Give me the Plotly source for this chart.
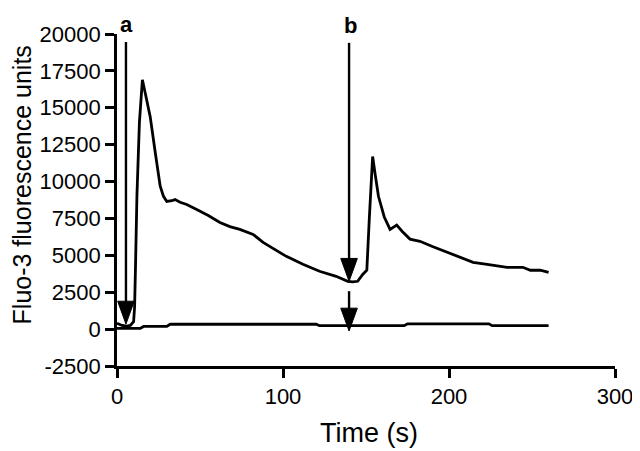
import plotly.graph_objects as go

# Upper trace (response) : time (s), Fluo-3 fluorescence units
t_resp = [0, 3, 6, 8, 10, 10.6, 11.2, 12, 13.5, 15.3, 17, 20, 23, 26, 28, 30, 33, 35, 38, 42, 48,
          55, 62, 68, 74, 78, 82, 88, 95, 102, 112, 122, 132, 139, 142, 145, 148, 150.5,
          152, 154, 155.5, 157.5, 161, 164.5, 168.5, 172, 176.5, 182.5, 190, 199, 205,
          214.5, 223, 235, 244.5, 249, 255, 260]
v_resp = [400, 250, 200, 250, 500, 1500, 4500, 9000, 14000, 16900, 16000, 14400, 12000, 9700, 9000, 8650, 8700, 8780, 8600, 8450, 8100,
          7700, 7230, 6950, 6760, 6600, 6420, 5880, 5400, 4930, 4390, 3920, 3580, 3240, 3200, 3240, 3700, 4000,
          7500, 11700, 10500, 9000, 7600, 6760, 7050, 6600, 6100, 5950, 5600, 5200, 4950,
          4530, 4390, 4190, 4190, 3990, 3990, 3850]

# Lower trace (control)
t_ctrl = [0, 14, 16, 30, 32, 120, 122, 173, 175, 224, 226, 260]
v_ctrl = [50, 50, 180, 180, 330, 330, 230, 230, 360, 360, 230, 230]

# Additions (arrows): label, time, top value, tip value
arrow_labels = ["a", "b", ""]
arrow_t = [5.4, 139.8, 139.8]
arrow_top = [19450, 19400, 2570]
arrow_tip = [340, 3240, -130]

x_ticks = [0, 100, 200, 300]
x_ticktext = ["0", "100", "200", "300"]
y_ticks = [-2500, 0, 2500, 5000, 7500, 10000, 12500, 15000, 17500, 20000]
y_ticktext = ["-2500", "0", "2500", "5000", "7500", "10000", "12500", "15000", "17500", "20000"]

x_title = "Time (s)"
y_title = "Fluo-3 fluorescence units"

FONT = "Liberation Sans, Arial, Helvetica"

fig = go.Figure()
fig.add_trace(go.Scatter(x=t_resp, y=v_resp, mode="lines",
                         line=dict(color="black", width=2.8), hoverinfo="skip"))
fig.add_trace(go.Scatter(x=t_ctrl, y=v_ctrl, mode="lines",
                         line=dict(color="black", width=2.8), hoverinfo="skip"))

head_half_w = 5.0   # seconds
head_h = 1550       # fluorescence units
for lab, t, top, tip in zip(arrow_labels, arrow_t, arrow_top, arrow_tip):
    fig.add_shape(type="line", x0=t, x1=t, y0=top, y1=tip + head_h * 0.5,
                  line=dict(color="black", width=2.4))
    fig.add_shape(type="path",
                  path=f"M {t - head_half_w} {tip + head_h} L {t + head_half_w} {tip + head_h} L {t} {tip} Z",
                  fillcolor="black", line=dict(color="black", width=1))
    if lab:
        fig.add_annotation(x=t, y=top, yshift=3, xshift=1, text=f"<b>{lab}</b>", showarrow=False,
                           yanchor="bottom", font=dict(size=22, color="black", family=FONT))

axis_common = dict(showline=True, linecolor="black", linewidth=2.8, ticks="outside",
                   ticklen=9, tickwidth=2.8, tickcolor="black", showgrid=False,
                   zeroline=False, mirror=False, automargin=False,
                   tickfont=dict(size=22, color="black", family=FONT))

fig.update_xaxes(range=[0, 300], tickvals=x_ticks, ticktext=x_ticktext, **axis_common)
fig.update_yaxes(range=[-2500, 20000], tickvals=y_ticks, ticktext=y_ticktext, **axis_common)

fig.add_annotation(xref="paper", yref="paper", x=0.506, y=-0.202, text=x_title,
                   showarrow=False, xanchor="center", yanchor="middle",
                   font=dict(size=27, color="black", family=FONT))
fig.add_annotation(xref="paper", yref="paper", x=-0.19, y=0.545, text=y_title,
                   showarrow=False, xanchor="center", yanchor="middle", textangle=-90,
                   font=dict(size=25, color="black", family=FONT))

# page body has an 8px margin, so the figure's margins are shifted to compensate
fig.update_layout(width=640, height=451, margin=dict(l=109, r=33, t=26, b=93),
                  plot_bgcolor="white", paper_bgcolor="white", showlegend=False)

fig.write_html("out.html")
